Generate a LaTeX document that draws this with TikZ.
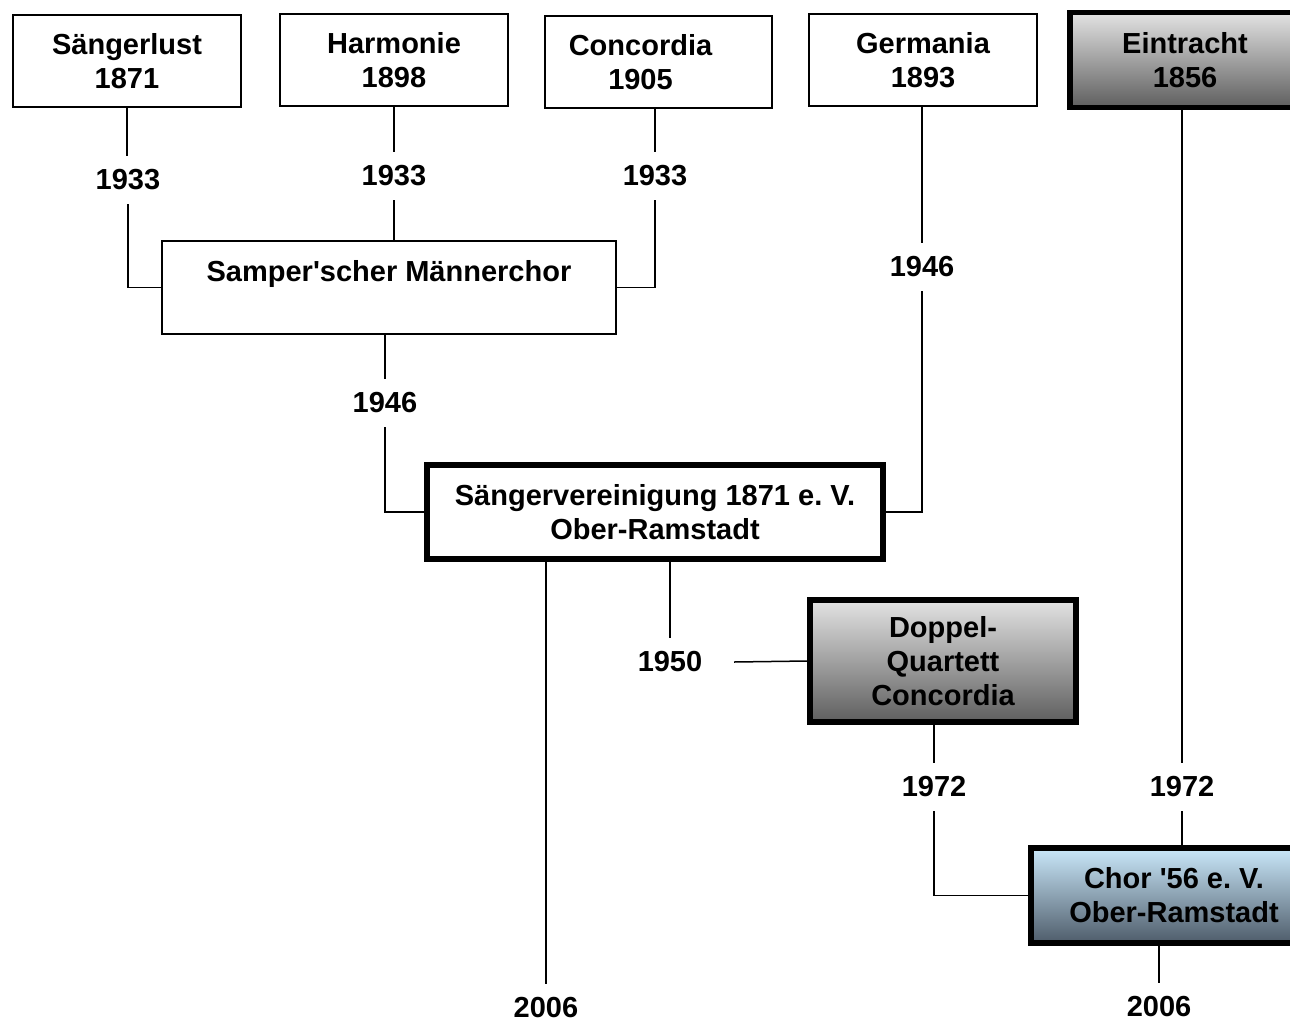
\documentclass[tikz,border=0pt]{standalone}
\usepackage{fontspec}
\setmainfont{Liberation Sans}
\begin{document}
\begin{tikzpicture}[x=1pt,y=-1pt,
  every node/.style={font=\fontsize{29}{34}\selectfont\bfseries, align=center},
  thinbox/.style={draw=black, line width=2.5pt, fill=white, minimum width=228pt, minimum height=92pt, inner sep=0pt},
  thickbox/.style={draw=black, line width=5.5pt, inner sep=0pt},
  greybox/.style={thickbox, top color=black!11, bottom color=black!63},
  bluebox/.style={thickbox, top color={rgb,255:red,202;green,232;blue,250}, bottom color={rgb,255:red,78;green,92;blue,106}},
  yr/.style={minimum height=48pt, inner sep=0pt},
  conn/.style={draw=black, line width=1.5pt}]
\clip (0,0) rectangle (1290,1023);
\fill[white] (0,0) rectangle (1290,1023);

% boxes
\node[thinbox] (sl) at (127,61) {Sängerlust\\1871};
\node[thinbox] (harm) at (394,60) {Harmonie\\1898};
\node[thinbox, minimum width=227pt] (conc) at (658.5,62) {\hspace*{-36pt}Concordia\\\hspace*{-36pt}1905};
\node[thinbox] (germ) at (923,60) {Germania\\1893};
\node[greybox, minimum width=230pt, minimum height=95pt] (ein) at (1185,60) {Eintracht\\1856};
\node[thinbox, minimum width=454pt, minimum height=93pt] (samp) at (389,287.5) {Samper\textquotesingle scher Männerchor\\\mbox{}};
\node[thickbox, fill=white, minimum width=456pt, minimum height=94pt] (sv) at (655,512) {Sängervereinigung 1871 e.\ V.\\Ober-Ramstadt};
\node[greybox, minimum width=266pt, minimum height=122pt] (dq) at (943,661) {Doppel-\\Quartett\\Concordia};
\node[bluebox, minimum width=286pt, minimum height=95pt] (chor) at (1174,895.5) {Chor \textquotesingle 56 e.\ V.\\Ober-Ramstadt};

% year labels
\node[yr] (y1) at (128,180) {1933};
\node[yr] (y2) at (394,176) {1933};
\node[yr] (y3) at (655,176) {1933};
\node[yr] (y4) at (922,267) {1946};
\node[yr] (y5) at (385,403) {1946};
\node[yr] (y6) at (546,1008) {2006};
\node[yr] (y7) at (670,662) {1950};
\node[yr] (y8) at (934,787) {1972};
\node[yr] (y9) at (1182,787) {1972};
\node[yr] (y10) at (1159,1007) {2006};

% connectors
\draw[conn] (sl.south) -- (sl.south |- y1.north);
\draw[conn] (y1.south) |- (samp.west);
\draw[conn] (harm.south) -- (harm.south |- y2.north);
\draw[conn] (y2.south) -- (y2.south |- samp.north);
\draw[conn] (y3.north |- conc.south) -- (y3.north);
\draw[conn] (y3.south) |- (samp.east);
\draw[conn] (y4.north |- germ.south) -- (y4.north);
\draw[conn] (y4.south) |- (sv.east);
\draw[conn] (y5.north |- samp.south) -- (y5.north);
\draw[conn] (y5.south) |- (sv.west);
\draw[conn] (y6.north |- sv.south) -- (y6.north);
\draw[conn] (y7.north |- sv.south) -- (y7.north);
\draw[conn] ([xshift=64pt]y7.center) -- (dq.west);
\draw[conn] (y8.north |- dq.south) -- (y8.north);
\draw[conn] (y8.south) |- (chor.west);
\draw[conn] (y9.north |- ein.south) -- (y9.north);
\draw[conn] (y9.south) -- (y9.south |- chor.north);
\draw[conn] (y10.north |- chor.south) -- (y10.north);
\end{tikzpicture}
\end{document}
